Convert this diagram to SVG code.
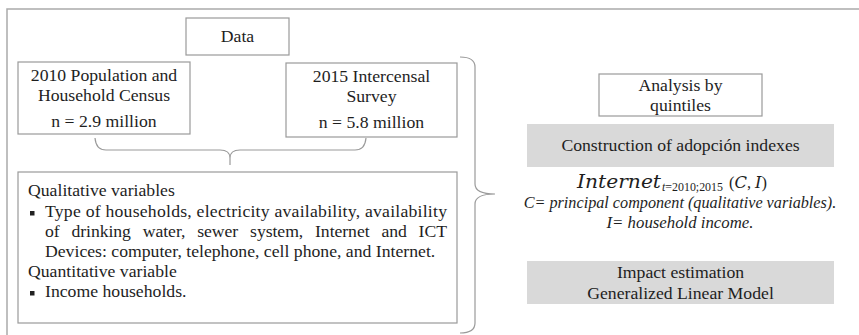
<svg xmlns="http://www.w3.org/2000/svg" width="859" height="335" viewBox="0 0 859 335">
<style>
text{font-family:"Liberation Serif","Times New Roman",serif;fill:#1e1e1e;font-size:17.7px}
.c{text-anchor:middle}
.box{fill:#fff;stroke:#9a9a9a;stroke-width:1.2}
.gbox{fill:#d9d9d9;stroke:none}
.br{fill:none;stroke:#9a9a9a;stroke-width:1.2}
.it{font-style:italic}
.m{font-family:"DejaVu Serif","Liberation Serif",serif;font-style:italic}
</style>
<rect x="0" y="0" width="859" height="335" fill="#fff"/>
<path d="M7,340 V9 H865" fill="none" stroke="#aaa" stroke-width="1.5"/>
<g id="data">
<rect class="box" x="186" y="18" width="103" height="37"/>
<text class="c" x="237.5" y="42">Data</text>
</g>
<g id="census2010">
<rect class="box" x="18" y="62" width="172" height="72"/>
<text class="c" x="104" y="81">2010 Population and</text>
<text class="c" x="104" y="101">Household Census</text>
<text class="c" x="104" y="127">n =  2.9 million</text>
</g>
<g id="survey2015">
<rect class="box" x="286" y="63" width="171" height="74"/>
<text class="c" x="371.5" y="82">2015 Intercensal</text>
<text class="c" x="371.5" y="102">Survey</text>
<text class="c" x="371.5" y="128">n =  5.8 million</text>
</g>
<g id="variables">
<rect class="box" x="18" y="172" width="439" height="151"/>
<text x="28" y="196">Qualitative variables</text>
<rect x="30" y="211" width="4.5" height="4.5" fill="#222"/>
<text x="45" y="217" textLength="402" lengthAdjust="spacing">Type of households, electricity availability, availability</text>
<text x="45" y="237" textLength="402" lengthAdjust="spacing" style="word-spacing:7.5px">of drinking water, sewer system, Internet and ICT</text>
<text x="45" y="257">Devices: computer, telephone, cell phone, and Internet.</text>
<text x="28" y="277">Quantitative variable</text>
<rect x="30" y="291" width="4.5" height="4.5" fill="#222"/>
<text x="45" y="297">Income households.</text>
</g>
<g id="quintiles">
<rect class="box" x="599" y="74" width="163" height="42"/>
<text class="c" x="680.5" y="91">Analysis by</text>
<text class="c" x="680.5" y="111">quintiles</text>
</g>
<g id="construction">
<rect class="gbox" x="527" y="124" width="307" height="43"/>
<text class="c" x="680.5" y="151">Construction of adopción indexes</text>
</g>
<g id="formula">
<text class="m" x="577" y="188" style="font-size:18px" textLength="84" lengthAdjust="spacingAndGlyphs">Internet</text>
<text x="662" y="191" style="font-size:12px" textLength="61" lengthAdjust="spacingAndGlyphs"><tspan class="it">t</tspan>=2010;2015</text>
<text x="729" y="188" style="font-size:17px" textLength="38" lengthAdjust="spacingAndGlyphs">(<tspan class="m">C</tspan>, <tspan class="m">I</tspan>)</text>
<text class="c it" x="680" y="208" style="font-size:16.2px">C= principal component (qualitative variables).</text>
<text class="c it" x="680" y="228" style="font-size:16.8px">I= household income.</text>
</g>
<g id="impact">
<rect class="gbox" x="527" y="261" width="307" height="43"/>
<text class="c" x="680.5" y="278">Impact estimation</text>
<text class="c" x="680.5" y="299">Generalized Linear Model</text>
</g>
<g id="connectors">
<path class="br" d="M95,138 Q96,150 106,150 H220 Q230,150 230,158 V165 M230,158 Q230,150 240,150 H355 Q365,150 366,138"/>
<path class="br" d="M460,57 Q475,57 475,67 V184 Q475,194 495,194 Q475,194 475,204 V323 Q475,333 460,333"/>
</g>
</svg>
